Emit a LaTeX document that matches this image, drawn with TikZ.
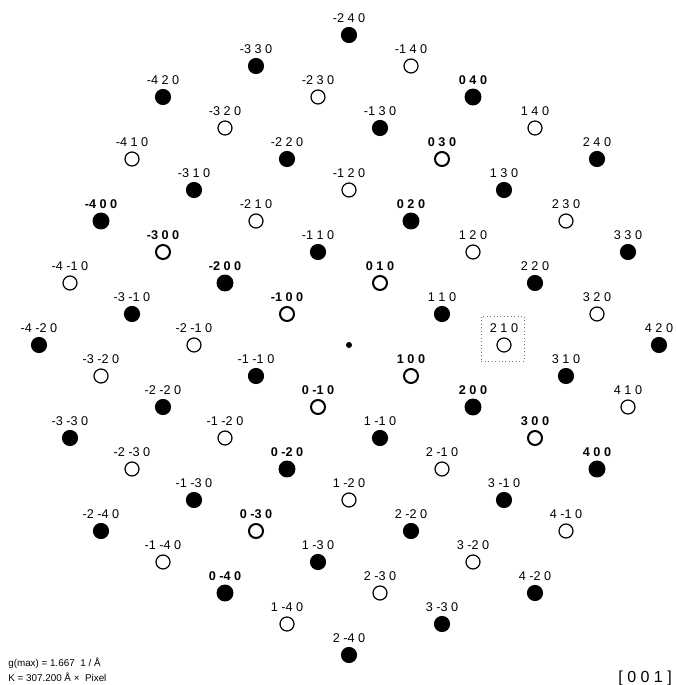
\documentclass[tikz,border=0pt]{standalone}
\usepackage{fontspec}
\setmainfont{Liberation Sans}
\definecolor{ink}{HTML}{000000}
\definecolor{frame}{HTML}{777777}

\begin{document}
\begin{tikzpicture}[x=0.75pt,y=-0.75pt,text=ink,
  spot/.style={circle,inner sep=0pt,minimum size=10.5pt,draw=ink,line width=.9pt},
  weak/.style={spot},
  strong/.style={spot,fill=ink,minimum size=11.2pt},
  axial/.style={line width=1.5pt},
  hkl/.style={font=\fontsize{9.5}{11}\selectfont,inner sep=0pt,anchor=base},
  note/.style={font=\fontsize{7.4}{9}\selectfont,inner sep=0pt,anchor=base west}]
  \useasboundingbox (0,0) rectangle (675,685);

  \node[circle,fill=ink,inner sep=0pt,minimum size=4.5pt] (o) at (349,345) {};

  \foreach \h in {-4,...,4}{
    \foreach \k in {-4,...,4}{
      \ifnum\numexpr\h*\h+\k*\k\relax<21 \ifnum\numexpr\h*\h+\k*\k\relax>0
        \ifodd\numexpr\h+\k\relax
          \tikzset{cur/.style={weak}}
        \else
          \tikzset{cur/.style={strong}}
        \fi
        \tikzset{curlbl/.style={}}
        \ifnum\numexpr\h*\k\relax=0
          \tikzset{cur/.append style={axial},curlbl/.style={font=\fontsize{9.5}{11}\selectfont\bfseries}}
        \fi
        \node[cur] (s\h\k) at ({349+62*\h+31*\k},{345+31*\h-62*\k}) {};
        \node[hkl,curlbl] (l\h\k) at ({349+62*\h+31*\k},{332.5+31*\h-62*\k}) {\h{} \k{} 0};
      \fi\fi
    }
  }

  \node[draw=frame,dotted,line width=.6pt,inner sep=0pt,
    minimum width=32.25pt,minimum height=33.75pt] (box) at (502.7,338.7) {};

  \node[note] (gmax) at (8,666) {g(max) = 1.667\ \ 1 / Å};
  \node[note] (kval) at (8,681) {K = 307.200 Å ×\ \ Pixel};
  \node[font=\fontsize{12}{14}\selectfont,inner sep=0pt,anchor=base east] (zone) at (672,682) {[ 0 0 1 ]};
\end{tikzpicture}
\end{document}
